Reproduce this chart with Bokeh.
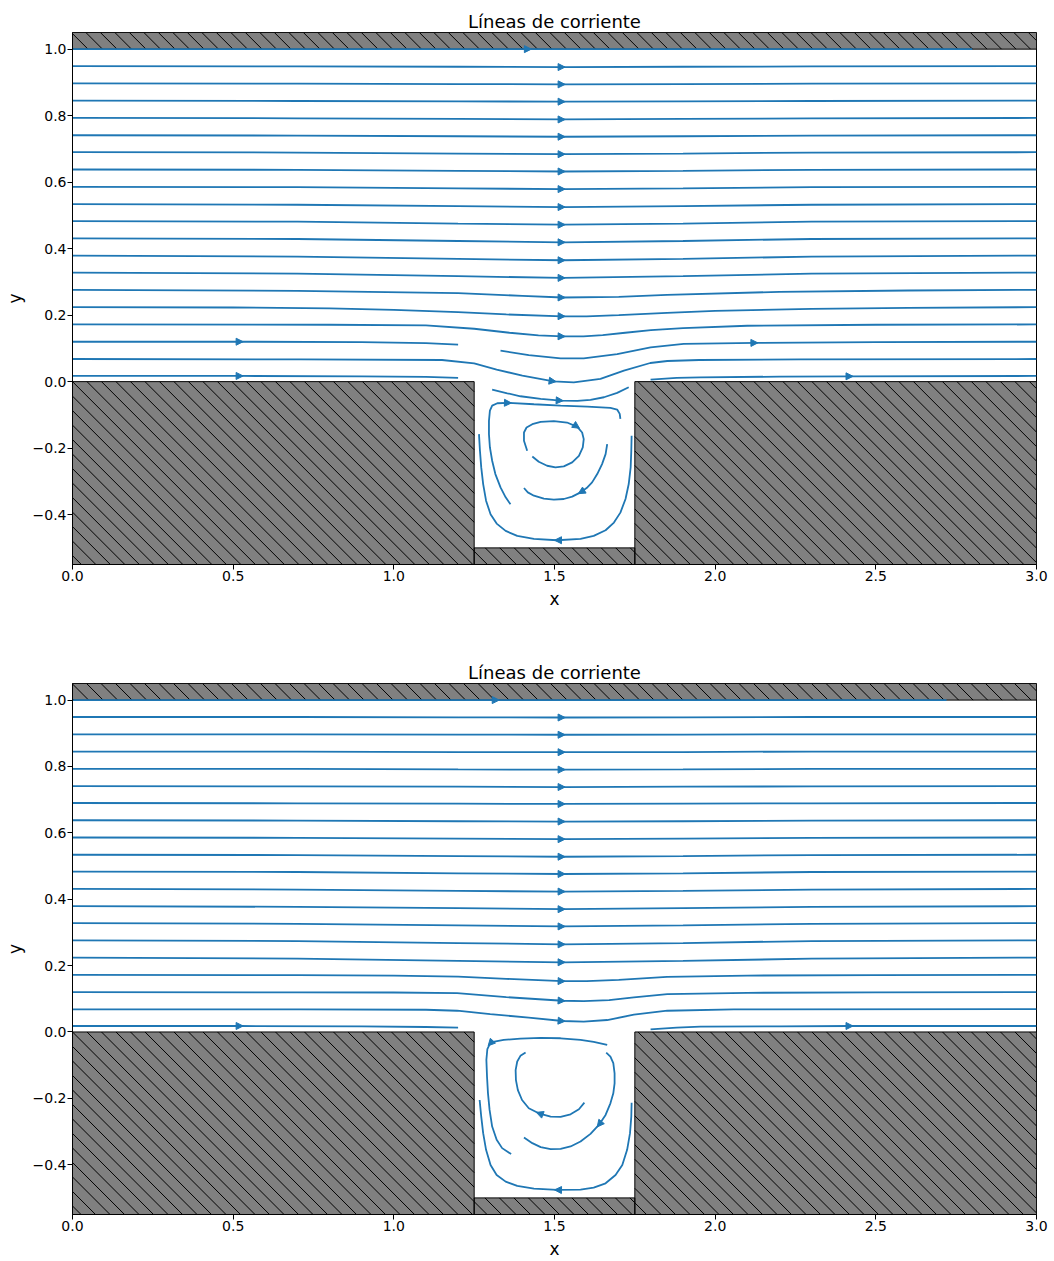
import numpy as np
from bokeh.plotting import figure
from bokeh.layouts import column
from bokeh.models import (Range1d, FixedTicker, CustomJSTickFormatter, Arrow,
                          NormalHead, ColumnDataSource)
from bokeh.embed import file_html
from bokeh.resources import INLINE

TITLE = "Líneas de corriente"
X_LABEL = "x"
Y_LABEL = "y"
X_TICKS = [0.0, 0.5, 1.0, 1.5, 2.0, 2.5, 3.0]
Y_TICKS = [-0.4, -0.2, 0.0, 0.2, 0.4, 0.6, 0.8, 1.0]
X_MIN, X_MAX = 0.0, 3.0
Y_MIN, Y_MAX = -0.55, 1.05

# solid walls (hatched blocks)
WALL_LEFT = [0.0, 1.75, 1.25, 0.0]
WALL_RIGHT = [1.25, 3.0, 1.75, 3.0]
WALL_BOTTOM = [-0.55, -0.55, -0.55, 1.0]
WALL_TOP = [0.0, 0.0, -0.5, 1.05]

# x knots shared by the nearly straight upper streamlines
UPPER_X = [0.0, 0.7, 1.2, 1.525, 1.9, 2.3, 3.0]

# ---------------- panel 1 ----------------
P1_UPPER_Y = [
    [0.949, 0.948, 0.947, 0.946, 0.947, 0.948, 0.949],
    [0.897, 0.896, 0.895, 0.894, 0.895, 0.896, 0.897],
    [0.845, 0.844, 0.843, 0.842, 0.843, 0.844, 0.845],
    [0.793, 0.792, 0.790, 0.7885, 0.790, 0.792, 0.793],
    [0.741, 0.740, 0.738, 0.7365, 0.738, 0.740, 0.741],
    [0.690, 0.689, 0.686, 0.684, 0.686, 0.689, 0.690],
    [0.638, 0.637, 0.634, 0.632, 0.634, 0.637, 0.638],
    [0.586, 0.585, 0.581, 0.579, 0.581, 0.585, 0.586],
    [0.534, 0.532, 0.528, 0.525, 0.528, 0.532, 0.534],
    [0.483, 0.481, 0.475, 0.472, 0.475, 0.481, 0.483],
    [0.431, 0.429, 0.423, 0.419, 0.423, 0.429, 0.431],
    [0.379, 0.376, 0.369, 0.365, 0.369, 0.376, 0.379],
    [0.328, 0.325, 0.317, 0.312, 0.317, 0.325, 0.328],
]
P1_TOP_X = [0.0, 1.42, 2.8]
P1_TOP_Y = [1.0, 1.0, 1.0]
P1_L276_X = [0.0, 0.7, 1.2, 1.4, 1.525, 1.7, 1.85, 2.2, 2.6, 3.0]
P1_L276_Y = [0.276, 0.273, 0.266, 0.258, 0.253, 0.255, 0.261, 0.270, 0.274, 0.276]
P1_L224_X = [0.0, 0.5, 0.8, 1.0, 1.2, 1.35, 1.525, 1.6, 1.7, 1.85, 2.0, 2.3, 2.6, 3.0]
P1_L224_Y = [0.224, 0.223, 0.220, 0.216, 0.209, 0.202, 0.1965, 0.196, 0.200, 0.207, 0.213, 0.219, 0.222, 0.224]
P1_L172_X = [0.0, 0.8, 1.1, 1.25, 1.36, 1.45, 1.525, 1.59, 1.65, 1.72, 1.8, 1.9, 2.1, 2.5, 3.0]
P1_L172_Y = [0.172, 0.171, 0.169, 0.159, 0.147, 0.139, 0.136, 0.136, 0.140, 0.147, 0.155, 0.161, 0.168, 0.171, 0.172]
P1_L120A_X = [0.0, 0.523, 0.9, 1.1, 1.2]
P1_L120A_Y = [0.120, 0.120, 0.119, 0.116, 0.111]
P1_L120B_X = [1.332, 1.42, 1.519, 1.591, 1.695, 1.799, 1.902, 2.125, 2.5, 3.0]
P1_L120B_Y = [0.093, 0.080, 0.070, 0.070, 0.083, 0.103, 0.1135, 0.1165, 0.119, 0.120]
P1_L068_X = [0.0, 0.71, 1.15, 1.25, 1.32, 1.4, 1.497, 1.56, 1.643, 1.716, 1.798, 1.851, 1.95, 2.266, 3.0]
P1_L068_Y = [0.068, 0.067, 0.065, 0.055, 0.036, 0.018, 0.001, -0.002, 0.008, 0.033, 0.056, 0.062, 0.065, 0.067, 0.068]
P1_L017A_X = [0.0, 0.523, 0.9, 1.1, 1.2]
P1_L017A_Y = [0.017, 0.017, 0.016, 0.014, 0.011]
P1_L017B_X = [1.799, 1.88, 1.954, 2.2, 2.421, 3.0]
P1_L017B_Y = [0.006, 0.011, 0.013, 0.015, 0.016, 0.017]
# cavity streamlines (in flow order)
P1_CA_X = [1.306, 1.353, 1.394, 1.457, 1.519, 1.571, 1.612, 1.654, 1.695, 1.731]
P1_CA_Y = [-0.024, -0.035, -0.044, -0.052, -0.057, -0.058, -0.055, -0.047, -0.034, -0.017]
P1_CB_X = [1.363, 1.348, 1.332, 1.316, 1.306, 1.299, 1.296, 1.296, 1.299, 1.306, 1.322,
           1.358, 1.436, 1.519, 1.602, 1.674, 1.695, 1.703, 1.705]
P1_CB_Y = [-0.369, -0.348, -0.318, -0.278, -0.238, -0.198, -0.158, -0.118, -0.087, -0.072, -0.065,
           -0.064, -0.068, -0.072, -0.075, -0.079, -0.084, -0.097, -0.112]
P1_CC_X = [1.415, 1.405, 1.405, 1.413, 1.431, 1.457, 1.498, 1.539, 1.571, 1.586,
           1.591, 1.588, 1.576, 1.555, 1.529, 1.503, 1.477, 1.451, 1.431]
P1_CC_Y = [-0.208, -0.178, -0.153, -0.138, -0.128, -0.121, -0.119, -0.123, -0.136, -0.153,
           -0.173, -0.198, -0.223, -0.243, -0.255, -0.258, -0.253, -0.241, -0.225]
P1_CD_X = [1.664, 1.659, 1.648, 1.633, 1.617, 1.600, 1.581, 1.555, 1.529, 1.498, 1.467, 1.436, 1.417, 1.405]
P1_CD_Y = [-0.188, -0.218, -0.248, -0.278, -0.303, -0.320, -0.333, -0.346, -0.353, -0.355, -0.352, -0.343, -0.333, -0.320]
P1_CE_X = [1.740, 1.739, 1.737, 1.731, 1.721, 1.705, 1.685, 1.659, 1.622, 1.581, 1.508,
           1.436, 1.384, 1.348, 1.320, 1.301, 1.287, 1.278, 1.272, 1.268, 1.265]
P1_CE_Y = [-0.163, -0.208, -0.258, -0.308, -0.353, -0.394, -0.424, -0.447, -0.464, -0.473, -0.477,
           -0.473, -0.464, -0.449, -0.427, -0.399, -0.358, -0.308, -0.258, -0.208, -0.158]

# ---------------- panel 2 ----------------
P2_UPPER_Y = [
    [0.949, 0.949, 0.948, 0.9475, 0.948, 0.949, 0.949],
    [0.897, 0.897, 0.896, 0.8955, 0.896, 0.897, 0.897],
    [0.845, 0.845, 0.8435, 0.843, 0.8435, 0.845, 0.845],
    [0.793, 0.7925, 0.791, 0.7905, 0.791, 0.7925, 0.793],
    [0.741, 0.740, 0.739, 0.738, 0.739, 0.740, 0.741],
    [0.690, 0.689, 0.688, 0.687, 0.688, 0.689, 0.690],
    [0.638, 0.637, 0.635, 0.634, 0.635, 0.637, 0.638],
    [0.586, 0.585, 0.5825, 0.581, 0.5825, 0.585, 0.586],
    [0.534, 0.533, 0.530, 0.528, 0.530, 0.533, 0.534],
    [0.483, 0.482, 0.478, 0.476, 0.478, 0.482, 0.483],
    [0.431, 0.429, 0.425, 0.423, 0.425, 0.429, 0.431],
    [0.379, 0.377, 0.373, 0.370, 0.373, 0.377, 0.379],
    [0.328, 0.326, 0.321, 0.318, 0.321, 0.326, 0.328],
    [0.276, 0.274, 0.268, 0.264, 0.268, 0.274, 0.276],
    [0.224, 0.221, 0.214, 0.210, 0.214, 0.221, 0.224],
]
P2_TOP_X = [0.0, 1.32, 2.72]
P2_TOP_Y = [1.0, 1.0, 1.0]
P2_L172_X = [0.0, 0.7, 1.0, 1.2, 1.35, 1.525, 1.6, 1.7, 1.85, 2.1, 2.5, 3.0]
P2_L172_Y = [0.172, 0.171, 0.170, 0.167, 0.160, 0.153, 0.153, 0.157, 0.166, 0.170, 0.171, 0.172]
P2_L120_X = [0.0, 0.7, 1.0, 1.197, 1.35, 1.525, 1.591, 1.67, 1.747, 1.851, 2.1, 2.5, 3.0]
P2_L120_Y = [0.120, 0.1195, 0.119, 0.117, 0.105, 0.094, 0.093, 0.096, 0.104, 0.114, 0.118, 0.1195, 0.120]
P2_L068_X = [0.0, 0.71, 1.1, 1.197, 1.3, 1.42, 1.525, 1.591, 1.664, 1.747, 1.851, 2.058, 3.0]
P2_L068_Y = [0.068, 0.068, 0.067, 0.064, 0.054, 0.043, 0.033, 0.031, 0.036, 0.052, 0.064, 0.068, 0.069]
P2_L017A_X = [0.0, 0.523, 0.9, 1.1, 1.2]
P2_L017A_Y = [0.018, 0.018, 0.017, 0.015, 0.013]
P2_L017B_X = [1.799, 1.88, 1.954, 2.2, 2.421, 3.0]
P2_L017B_Y = [0.008, 0.013, 0.016, 0.017, 0.018, 0.018]
P2_CA_X = [1.664, 1.622, 1.581, 1.519, 1.457, 1.394, 1.342, 1.313, 1.299, 1.291, 1.288,
           1.290, 1.293, 1.298, 1.306, 1.320, 1.337, 1.365]
P2_CA_Y = [-0.039, -0.030, -0.024, -0.019, -0.018, -0.020, -0.024, -0.029, -0.036, -0.052, -0.084,
           -0.135, -0.185, -0.235, -0.285, -0.325, -0.350, -0.368]
P2_CC_X = [1.593, 1.576, 1.550, 1.519, 1.488, 1.451, 1.420, 1.399, 1.386, 1.380, 1.379, 1.384, 1.394, 1.410]
P2_CC_Y = [-0.213, -0.233, -0.248, -0.256, -0.255, -0.245, -0.230, -0.205, -0.175, -0.145, -0.115, -0.089, -0.072, -0.062]
P2_CD_X = [1.661, 1.674, 1.683, 1.687, 1.687, 1.683, 1.674, 1.659, 1.638, 1.612, 1.581,
           1.550, 1.519, 1.488, 1.457, 1.431, 1.405]
P2_CD_Y = [-0.062, -0.074, -0.094, -0.125, -0.155, -0.185, -0.215, -0.250, -0.280, -0.307, -0.330,
           -0.345, -0.352, -0.353, -0.347, -0.335, -0.318]
P2_CE_X = [1.740, 1.739, 1.735, 1.726, 1.711, 1.690, 1.659, 1.622, 1.581, 1.508,
           1.436, 1.384, 1.348, 1.320, 1.301, 1.287, 1.278, 1.272, 1.267]
P2_CE_Y = [-0.213, -0.255, -0.305, -0.355, -0.401, -0.431, -0.456, -0.469, -0.475, -0.476,
           -0.472, -0.464, -0.451, -0.431, -0.401, -0.355, -0.305, -0.255, -0.205]

LINE_COLOR = "#1f77b4"
FONT = "DejaVu Sans"
FIG_W = 1054
BORDER_L, BORDER_R = 72, 18
HATCH_SPACING_PX = 14.5


def build_panel1():
    xs, ys, arrows = [], [], []
    xs.append(P1_TOP_X); ys.append(P1_TOP_Y); arrows.append((len(xs) - 1, 1))
    for yl in P1_UPPER_Y:
        xs.append(UPPER_X); ys.append(yl); arrows.append((len(xs) - 1, 3))
    for lx, ly, k in [(P1_L276_X, P1_L276_Y, 4), (P1_L224_X, P1_L224_Y, 6),
                      (P1_L172_X, P1_L172_Y, 6), (P1_L120A_X, P1_L120A_Y, 1),
                      (P1_L120B_X, P1_L120B_Y, 7), (P1_L068_X, P1_L068_Y, 6),
                      (P1_L017A_X, P1_L017A_Y, 1), (P1_L017B_X, P1_L017B_Y, 4),
                      (P1_CA_X, P1_CA_Y, 4), (P1_CB_X, P1_CB_Y, 11),
                      (P1_CC_X, P1_CC_Y, 8), (P1_CD_X, P1_CD_Y, 6),
                      (P1_CE_X, P1_CE_Y, 10)]:
        xs.append(lx); ys.append(ly); arrows.append((len(xs) - 1, k))
    return xs, ys, arrows


def build_panel2():
    xs, ys, arrows = [], [], []
    xs.append(P2_TOP_X); ys.append(P2_TOP_Y); arrows.append((len(xs) - 1, 1))
    for yl in P2_UPPER_Y:
        xs.append(UPPER_X); ys.append(yl); arrows.append((len(xs) - 1, 3))
    for lx, ly, k in [(P2_L172_X, P2_L172_Y, 5), (P2_L120_X, P2_L120_Y, 5),
                      (P2_L068_X, P2_L068_Y, 6), (P2_L017A_X, P2_L017A_Y, 1),
                      (P2_L017B_X, P2_L017B_Y, 4), (P2_CA_X, P2_CA_Y, 8),
                      (P2_CC_X, P2_CC_Y, 5), (P2_CD_X, P2_CD_Y, 8),
                      (P2_CE_X, P2_CE_Y, 9)]:
        xs.append(lx); ys.append(ly); arrows.append((len(xs) - 1, k))
    return xs, ys, arrows


def make_fig(height, border_top, border_bottom):
    p = figure(width=FIG_W, height=height, x_range=Range1d(X_MIN, X_MAX), y_range=Range1d(Y_MIN, Y_MAX),
               output_backend="svg", toolbar_location=None, title=TITLE,
               min_border_left=BORDER_L, min_border_right=BORDER_R, min_border_top=border_top,
               min_border_bottom=border_bottom)
    p.title.align = "center"
    p.title.text_font = FONT
    p.title.text_font_size = "18px"
    p.title.text_font_style = "normal"
    p.title.text_color = "black"
    p.title.standoff = 2
    p.xgrid.visible = False
    p.ygrid.visible = False
    p.outline_line_color = "black"
    p.outline_line_width = 1
    p.background_fill_color = "white"
    p.border_fill_color = "white"
    fmt = "return (tick < -1e-9 ? '\u2212' : '') + Math.abs(tick).toFixed(1);"
    p.xaxis.ticker = FixedTicker(ticks=X_TICKS)
    p.yaxis.ticker = FixedTicker(ticks=Y_TICKS)
    for ax, lab, lab_off in [(p.xaxis[0], X_LABEL, 5), (p.yaxis[0], Y_LABEL, 5)]:
        ax.formatter = CustomJSTickFormatter(code=fmt)
        ax.axis_label = lab
        ax.axis_label_text_font = FONT
        ax.axis_label_text_font_size = "17px"
        ax.axis_label_text_font_style = "normal"
        ax.axis_label_text_color = "black"
        ax.axis_label_standoff = lab_off
        ax.major_label_text_font = FONT
        ax.major_label_text_font_size = "14px"
        ax.major_label_text_color = "black"
        ax.major_label_standoff = 1
        ax.major_tick_in = 0
        ax.major_tick_out = 5
        ax.major_tick_line_color = "black"
        ax.minor_tick_line_color = None
        ax.axis_line_color = "black"
    return p


def hatch_segments(frame_h_px):
    # 45-degree "\" hatch lines (decoration) clipped to each wall block
    kx = (FIG_W - BORDER_L - BORDER_R) / (X_MAX - X_MIN)
    ky = frame_h_px / (Y_MAX - Y_MIN)
    sp = HATCH_SPACING_PX
    x0s, y0s, x1s, y1s = [], [], [], []
    for l, r, b, t in zip(WALL_LEFT, WALL_RIGHT, WALL_BOTTOM, WALL_TOP):
        L, R, B, T = l * kx, r * kx, b * ky, t * ky
        c = np.ceil((L + B) / sp) * sp
        while c < R + T:
            xa = max(L, c - T)
            xb = min(R, c - B)
            if xb > xa:
                x0s.append(xa / kx); y0s.append((c - xa) / ky)
                x1s.append(xb / kx); y1s.append((c - xb) / ky)
            c += sp
    return x0s, y0s, x1s, y1s


def draw(p, xs, ys, arrows, frame_h_px):
    p.quad(left=WALL_LEFT, right=WALL_RIGHT, bottom=WALL_BOTTOM, top=WALL_TOP,
           fill_color="#808080", line_color=None)
    hx0, hy0, hx1, hy1 = hatch_segments(frame_h_px)
    p.segment(x0=hx0, y0=hy0, x1=hx1, y1=hy1, line_color="black", line_width=1)
    p.quad(left=WALL_LEFT, right=WALL_RIGHT, bottom=WALL_BOTTOM, top=WALL_TOP,
           fill_color=None, line_color="black", line_width=1)
    p.multi_line(xs=xs, ys=ys, line_color=LINE_COLOR, line_width=1.8)
    sx, sy, ex, ey = [], [], [], []
    for i, k in arrows:
        x = np.asarray(xs[i], dtype=float)
        y = np.asarray(ys[i], dtype=float)
        dx = x[k + 1] - x[k - 1]
        dy = y[k + 1] - y[k - 1]
        n = np.hypot(dx, dy)
        sx.append(x[k] - 0.01 * dx / n); sy.append(y[k] - 0.01 * dy / n)
        ex.append(x[k] + 0.008 * dx / n); ey.append(y[k] + 0.008 * dy / n)
    src = ColumnDataSource(dict(sx=sx, sy=sy, ex=ex, ey=ey))
    p.add_layout(Arrow(end=NormalHead(size=7, fill_color=LINE_COLOR, line_color=LINE_COLOR, line_width=1),
                       x_start="sx", y_start="sy", x_end="ex", y_end="ey",
                       source=src, line_alpha=0))


# frame 1: 532 px tall starting 32 px from the top; frame 2: 531 px tall starting at 683
p1 = make_fig(651, 32, 87)
draw(p1, *build_panel1(), 532)
p2 = make_fig(610, 32, 47)
draw(p2, *build_panel2(), 531)

layout = column(p1, p2, spacing=0)
open("out.html", "w").write(file_html(layout, INLINE))
